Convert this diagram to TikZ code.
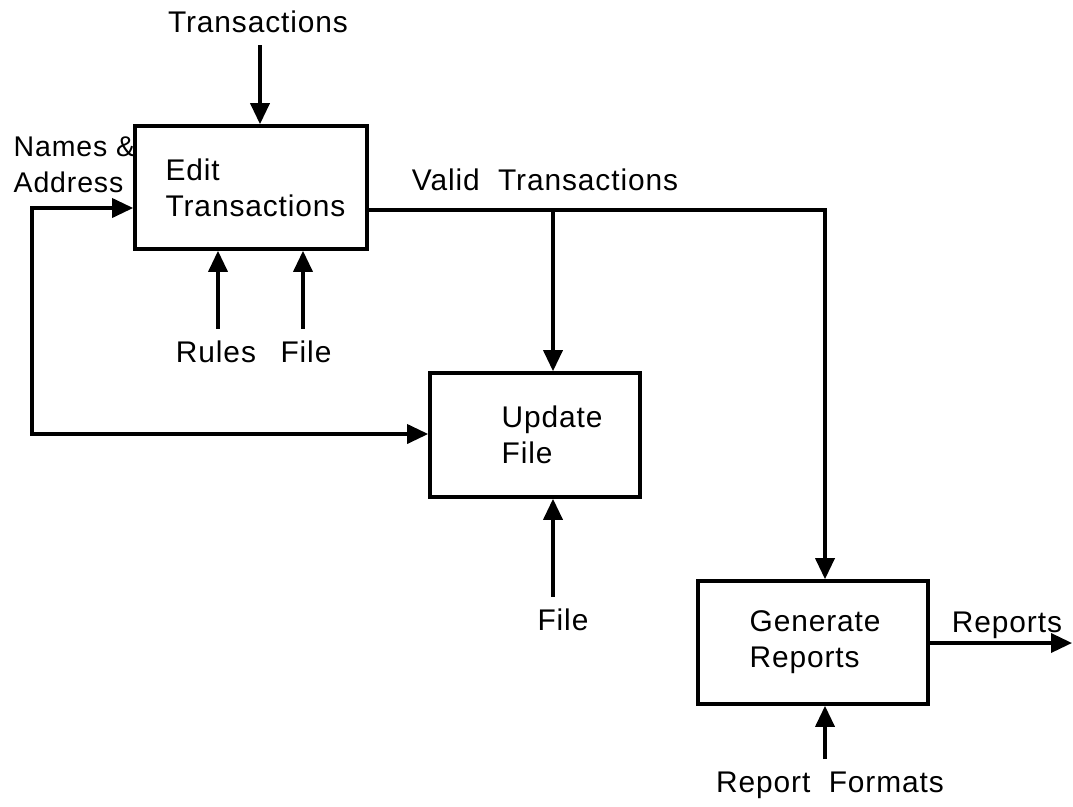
\documentclass[tikz,border=0pt]{standalone}
\usepackage{fontspec}
\setmainfont{Liberation Sans}[LetterSpace=3]
\usetikzlibrary{arrows.meta}
\tikzstyle{box}=[rectangle, draw=black, line width=1pt, inner sep=0pt]
\tikzstyle{lbl}=[align=left, font=\fontsize{8.5}{10.2}\selectfont]
\tikzstyle{flow}=[draw=black, line width=1pt,
                  -{Triangle[length=2.1mm, width=1.9mm]}]
\tikzstyle{flowboth}=[draw=black, line width=1pt,
                  {Triangle[length=2.1mm, width=1.9mm]}-{Triangle[length=2.1mm, width=1.9mm]}]

\begin{document}
\begin{tikzpicture}[x=0.01cm, y=-0.01cm]
      \useasboundingbox (0,0) rectangle (1073,806);

      % boxes
      \node[box, minimum width=2.32cm, minimum height=1.23cm] (edit) at (251,187.5) {};
      \node[box, minimum width=2.10cm, minimum height=1.24cm] (update) at (535,435) {};
      \node[box, minimum width=2.30cm, minimum height=1.23cm] (gen) at (813,642.5) {};

      \node[lbl, anchor=west] (editlbl) at ([xshift=0.20cm]edit.west) {Edit\\Transactions};
      \node[lbl, anchor=west] (updatelbl) at ([xshift=0.61cm]update.west) {Update\\File};
      \node[lbl, anchor=west] (genlbl) at ([xshift=0.41cm]gen.west) {Generate\\Reports};

      % labels
      \node[lbl] (trans) at (258,22) {Transactions};
      \node[lbl, anchor=west, inner xsep=0pt, font=\fontsize{8.1}{10.2}\selectfont] (names) at (13,165) {Names \&\\Address};
      \node[lbl] (rules) at (216,352) {Rules};
      \node[lbl] (file1) at (306,352) {File};
      \node[lbl] (valid) at (545,180) {Valid\ \ Transactions};
      \node[lbl] (file2) at (563,620) {File};
      \node[lbl] (reports) at (1007,625) {Reports};
      \node[lbl] (formats) at (830,785) {Report\ \ Formats};

      \coordinate (lt) at (32,208);
      \coordinate (lb) at (32,434);
      \coordinate (vt) at (553,210);
      \coordinate (vr) at (825,210);
      \coordinate (rout) at (1072,643);

      % connectors
      \draw[flow] (trans.south -| 260,0) -- (edit.north -| 260,0);
      \draw[flowboth] (edit.west |- lt) -- (lt) -- (lb) -- (update.west |- lb);
      \draw[flow] (rules.north -| 218,0) -- (edit.south -| 218,0);
      \draw[flow] (file1.north -| 303,0) -- (edit.south -| 303,0);
      \draw[flow] (edit.east |- vr) -- (vr) -- (vr |- gen.north);
      \draw[flow] (vt) -- (vt |- update.north);
      \draw[flow] (vt |- file2.north) -- (vt |- update.south);
      \draw[flow] (gen.east |- rout) -- (rout);
      \draw[flow] (vr |- formats.north) -- (vr |- gen.south);
\end{tikzpicture}
\end{document}
